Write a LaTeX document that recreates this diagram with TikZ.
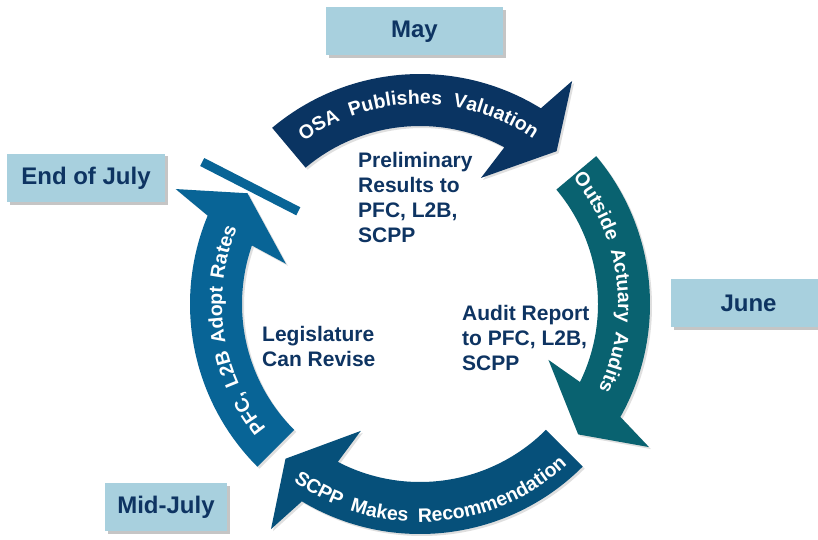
\documentclass[tikz,border=0pt]{standalone}
\usepackage{fontspec}
\setmainfont{Liberation Sans}
\usetikzlibrary{decorations.text,shadows}

\definecolor{navytext}{RGB}{14,52,98}
\definecolor{boxblue}{RGB}{168,208,222}
\definecolor{arrowtop}{RGB}{10,52,98}
\definecolor{arrowright}{RGB}{9,98,112}
\definecolor{arrowbottom}{RGB}{6,80,122}
\definecolor{arrowleft}{RGB}{8,100,150}

\begin{document}
\begin{tikzpicture}[x=1pt, y=1pt,
    month/.style={rectangle, fill=boxblue, text=navytext, font=\fontsize{24}{28}\selectfont\bfseries,
        inner sep=0, minimum height=48, drop shadow={shadow xshift=2.5pt, shadow yshift=-2.5pt, opacity=0.45}},
    note/.style={font=\fontsize{21}{25}\selectfont\bfseries, text=navytext, align=left, inner sep=0, anchor=north west},
    arctext/.style={decorate, decoration={text along path, text align={fit to path stretching spaces},
        text={|\fontsize{19.5}{22}\selectfont\bfseries\color{white}|#1}}}]
    % Canvas
    \path[use as bounding box, fill=white] (0,0) rectangle (818,539);

    % Month labels
    \node[month, minimum width=177] (May) at (414.5,507.5) {May};
    \node[month, minimum width=155] (Jun) at (748.5,236) {June};
    \node[month, minimum width=122] (MidJul) at (166,32) {Mid-July};
    \node[month, minimum width=158] (EndJul) at (86,361) {End of July};

    \begin{scope}[shift={(420,235)}]
        % Cycle arrows (colour / tail angle / head angle), running clockwise
        \foreach \col/\t/\h in {arrowtop/130/64.2, arrowright/40/-23.5, arrowbottom/-45/-115, arrowleft/-135/-196.7} {
            \fill[\col, drop shadow={shadow xshift=2pt, shadow yshift=-2pt, opacity=0.25}]
                (\t:230) arc[start angle=\t, end angle=\h-5.9, radius=230]
                -- ({\h-8.5}:270) -- ({\h-16}:205) -- (\h:140) -- ({\h-2.5}:178)
                arc[start angle=\h-2.5, end angle=\t, radius=178] -- cycle;
        }
        % Stop bar
        \draw[arrowleft, line width=9] (146.9:260) -- (142.7:153);

        % Labels on the arrows
        \path[arctext={OSA Publishes Valuation}] (125.5:200) arc[start angle=125.5, end angle=55.5, radius=200];
        \path[arctext={Outside Actuary Audits}] (39.5:198) arc[start angle=39.5, end angle=-25.5, radius=198];
        \path[arctext={SCPP Makes Recommendation}] (-125.5:218) arc[start angle=-125.5, end angle=-47.5, radius=218];
        \path[arctext={PFC, L2B Adopt Rates}] (219:198) arc[start angle=219, end angle=157.5, radius=198];
    \end{scope}

    % Notes inside the cycle
    \node[note] (Prelim) at (358,387) {Preliminary\\Results to\\PFC, L2B,\\SCPP};
    \node[note] (Audit) at (462,234) {Audit Report\\to PFC, L2B,\\SCPP};
    \node[note] (Legis) at (262,213) {Legislature\\Can Revise};
\end{tikzpicture}
\end{document}
